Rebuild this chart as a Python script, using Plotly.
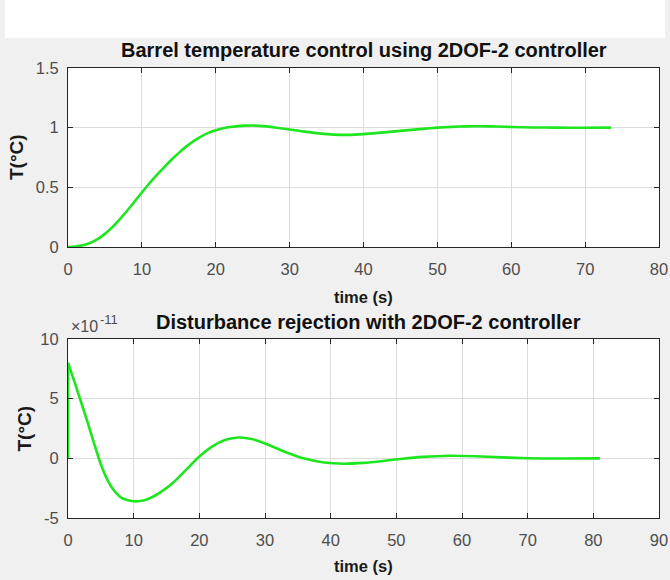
import plotly.graph_objects as go

# ---- data ----
# Top: barrel temperature step response
t_step = [0, 1, 2, 3, 4, 5, 6, 7, 8, 9, 10, 11, 12, 13, 14, 15, 16, 17, 18, 19, 20,
          21, 22, 23, 24, 25, 26, 28, 30, 32, 34, 36, 38, 40, 42, 45, 48, 50, 52,
          54, 56, 58, 60, 63, 66, 70, 73.5]
T_step = [0, 0.004, 0.014, 0.034, 0.066, 0.11, 0.166, 0.232, 0.304, 0.38, 0.457,
          0.532, 0.602, 0.668, 0.731, 0.789, 0.841, 0.887, 0.925, 0.956, 0.979,
          0.995, 1.006, 1.013, 1.017, 1.018, 1.015, 1.002, 0.985, 0.967, 0.952,
          0.942, 0.94, 0.946, 0.956, 0.973, 0.99, 1.0, 1.007, 1.011, 1.012,
          1.01, 1.006, 1.002, 1.0, 0.999, 1.0]

# Bottom: disturbance rejection (values in units of 1e-11 degC)
t_dist = [0, 0, 1, 2, 3, 4, 5, 6, 7, 8, 9, 10, 11, 12, 13, 14, 16, 18, 20,
          22, 24, 26, 28, 30, 33, 36, 39, 42, 45, 48, 51, 54, 58, 62, 66, 70,
          75, 81]
T_dist_e11 = [0, 8, 6.4, 4.7, 3.0, 1.2, -0.5, -1.8, -2.7, -3.25, -3.5, -3.6,
              -3.58, -3.45, -3.2, -2.88, -2.05, -0.95, 0.15, 1.0, 1.55, 1.75,
              1.62, 1.25, 0.55, -0.02, -0.35, -0.45, -0.38, -0.22, -0.03, 0.12,
              0.22, 0.18, 0.08, 0.01, -0.02, 0.0]

x_ticks_top = [0, 10, 20, 30, 40, 50, 60, 70, 80]
y_ticks_top = [0, 0.5, 1, 1.5]
y_labels_top = ["0", "0.5", "1", "1.5"]
x_ticks_bot = [0, 10, 20, 30, 40, 50, 60, 70, 80, 90]
y_ticks_bot = [-5, 0, 5, 10]
y_labels_bot = ["-5", "0", "5", "10"]

title_top = "Barrel temperature control using 2DOF-2 controller"
title_bot = "Disturbance rejection with 2DOF-2 controller"
xlabel = "time (s)"
ylabel = "T(°C)"
exp_base = "×10"
exp_power = "-11"

# ---- figure ----
W, H = 670, 580
LINE = "#1ee61e"
AX = "#262626"
TICKC = "#4d4d4d"
GRID = "#dcdcdc"
FONT = "Liberation Sans, Arial, Helvetica, sans-serif"

def px(x):
    return x / W

def py(y):
    return 1 - y / H

fig = go.Figure()
line_style = dict(color=LINE, width=2.6, shape="spline", smoothing=0.6)
fig.add_trace(go.Scatter(x=t_step, y=T_step, mode="lines", line=line_style,
                         xaxis="x", yaxis="y", showlegend=False))
# vertical jump at t = 0 (first two samples), then the smooth response
fig.add_trace(go.Scatter(x=t_dist[:2], y=T_dist_e11[:2], mode="lines",
                         line=dict(color=LINE, width=2.6),
                         xaxis="x2", yaxis="y2", showlegend=False))
fig.add_trace(go.Scatter(x=t_dist[1:], y=T_dist_e11[1:], mode="lines", line=line_style,
                         xaxis="x2", yaxis="y2", showlegend=False))

axis_common = dict(showline=True, linecolor=AX, linewidth=1, mirror="ticks",
                   ticks="inside", ticklen=5, tickcolor=AX, tickwidth=1,
                   showgrid=True, gridcolor=GRID, gridwidth=1, zeroline=False,
                   tickfont=dict(family=FONT, size=16.5, color=TICKC),
                   automargin=False, fixedrange=True)

xdom = [px(68), px(659)]
fig.update_layout(
    template="none",
    width=W, height=H, autosize=False,
    margin=dict(l=0, r=0, t=0, b=0, pad=0),
    paper_bgcolor="#f0f0f0",
    plot_bgcolor="white",
    font=dict(family=FONT),
    xaxis=dict(domain=xdom, range=[0, 80], tickvals=x_ticks_top, anchor="y",
               ticklabelstandoff=7, **axis_common),
    yaxis=dict(domain=[py(247), py(68)], range=[0, 1.5], tickvals=y_ticks_top,
               ticktext=y_labels_top, anchor="x", ticklabelstandoff=5, **axis_common),
    xaxis2=dict(domain=xdom, range=[0, 90], tickvals=x_ticks_bot, anchor="y2",
                ticklabelstandoff=7, **axis_common),
    yaxis2=dict(domain=[py(518), py(339)], range=[-5, 10], tickvals=y_ticks_bot,
                ticktext=y_labels_bot, anchor="x2", ticklabelstandoff=5, **axis_common),
)

# white strip at the top of the image
fig.add_shape(type="rect", xref="paper", yref="paper",
              x0=px(5), x1=px(665), y0=py(38), y1=1.0,
              fillcolor="white", line=dict(width=0), layer="below")

def ann(text, x, y, size, bold=False, color="black", angle=0, xanchor="center", yanchor="middle"):
    fig.add_annotation(text=f"<b>{text}</b>" if bold else text,
                       x=px(x), y=py(y), xref="paper", yref="paper",
                       showarrow=False, textangle=angle,
                       xanchor=xanchor, yanchor=yanchor,
                       font=dict(family=FONT, size=size, color=color))

ann(title_top, 363.5, 50, 20, bold=True, color="#111111")
ann(title_bot, 368, 322, 20, bold=True, color="#111111")
ann(xlabel, 363.5, 297, 16.5, bold=True, color="#1a1a1a")
ann(xlabel, 363.5, 566, 16.5, bold=True, color="#1a1a1a")
ann(ylabel, 16.5, 157.5, 19, bold=True, color="#1a1a1a", angle=-90)
ann(ylabel, 24, 428.5, 19, bold=True, color="#1a1a1a", angle=-90)
ann(exp_base, 69, 337, 16, color=TICKC, xanchor="left", yanchor="bottom")
ann(exp_power, 98, 329, 13, color=TICKC, xanchor="left", yanchor="bottom")

fig.write_html("out.html")
